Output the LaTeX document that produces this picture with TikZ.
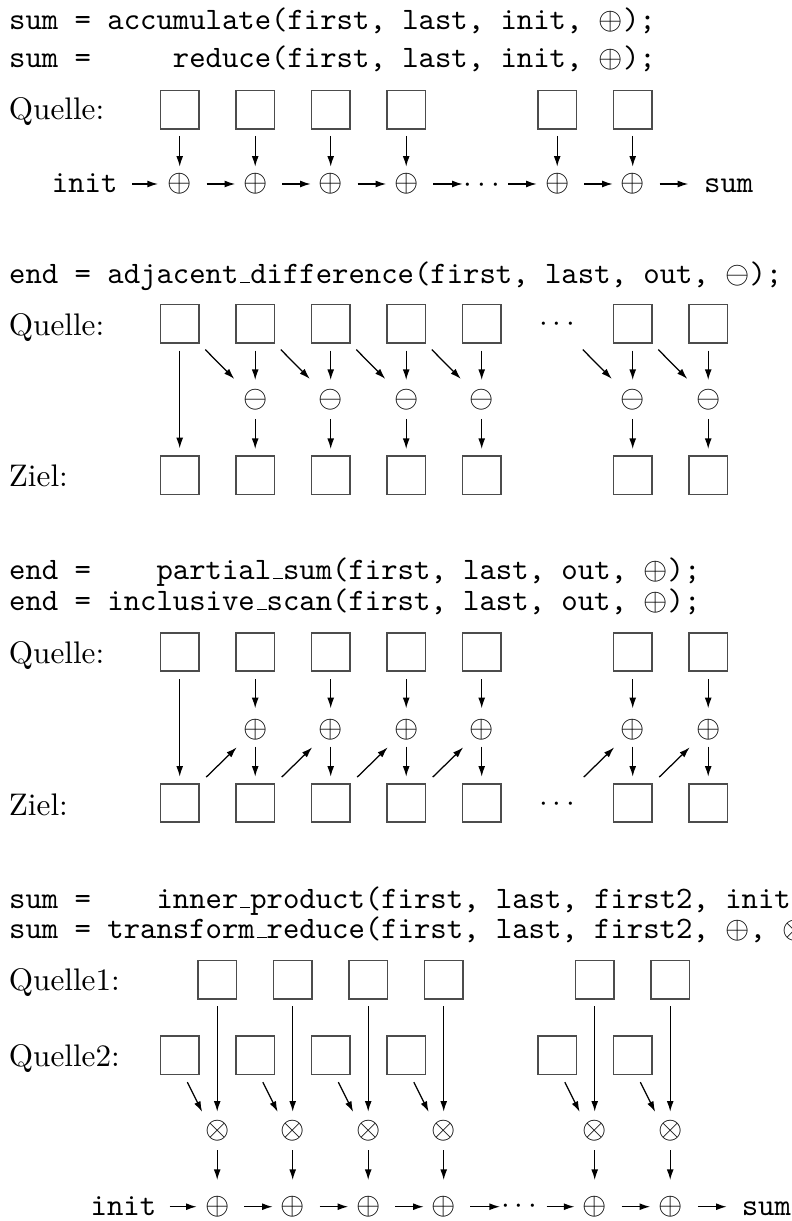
\documentclass[tikz,border=0pt]{standalone}
\usetikzlibrary{arrows.meta,calc}
\newcommand\usc{\leavevmode\kern0.63pt\vbox{\hrule width 3.15pt}}
\tikzset{
  box/.style={draw=black!70, line width=0.5pt, minimum width=12.34pt, minimum height=12.34pt, inner sep=0pt},
  op/.style={inner sep=0pt},
  lbl/.style={anchor=base west, inner sep=0pt},
  code/.style={anchor=base west, inner sep=0pt, font=\ttfamily},
  arr/.style={-{Latex[length=3.4pt,width=2.2pt]}, line width=0.4pt},
  dotsn/.style={anchor=base, inner sep=0pt},
  sh/.style 2 args={shorten <=#1*0.3205pt, shorten >=#2*0.3205pt},
}
\begin{document}
\begin{tikzpicture}[x=0.3205pt,y=-0.3205pt]
\useasboundingbox (0,0) rectangle (792,1221);

% ---------- Section 1 ----------
\node[code] (t1a) at (8.5,30) {sum = accumulate(first, last, init, $\oplus$);};
\node[code] (t1b) at (8.5,67.5) {sum =\ \ \ \ \ reduce(first, last, init, $\oplus$);};
\node[lbl] (l1) at (8.3,120) {Quelle:};
\foreach \i in {0,1,2,3,5,6} {
  \node[box] (a\i) at ({179.7+75.5*\i},109.7) {};
  \node[op] (ap\i) at ({179.7+75.5*\i},184) {$\oplus$};
  \draw[arr, sh={26.3}{17.3}] (a\i.center) -- (ap\i.center);
}
\node[dotsn] (ad) at (481.7,192.8) {$\cdots$};
\node[code] (init1) at (51.3,193) {init};
\node[code] (sum1) at (703.5,193) {sum};
\draw[arr, sh={14}{21.7}] (init1.east |- ap0.center) -- (ap0.center);
\foreach \a/\b in {0/1,1/2,2/3,5/6}
  \draw[arr, sh={27}{20}] (ap\a.center) -- (ap\b.center);
\draw[arr, sh={27}{19}] (ap3.center) -- (ad.center |- ap3.center);
\draw[arr, sh={26.5}{20.5}] (ad.center |- ap5.center) -- (ap5.center);
\draw[arr, sh={27}{15.2}] (ap6.center) -- (sum1.west |- ap6.center);

% ---------- Section 2 ----------
\node[code] (t2) at (8.5,283.3) {end = adjacent\usc difference(first, last, out, $\ominus$);};
\node[lbl] (l2q) at (8.3,336) {Quelle:};
\node[lbl] (l2z) at (8.3,486.7) {Ziel:};
\foreach \i in {0,1,2,3,4,6,7} {
  \node[box] (b\i) at ({179.7+75.5*\i},323.8) {};
  \node[box] (bz\i) at ({179.7+75.5*\i},475.3) {};
}
\coordinate (b5) at (557.2,323.8);
\node[dotsn] (bd) at (557.2,331.8) {$\cdots$};
\draw[arr, sh={26.9}{27}] (b0.center) -- (bz0.center);
\foreach \i in {1,2,3,4,6,7} {
  \node[op] (bm\i) at ({179.7+75.5*\i},400) {$\ominus$};
  \draw[arr, sh={26.9}{20}] (b\i.center) -- (bm\i.center);
  \draw[arr, sh={19}{26.3}] (bm\i.center) -- (bz\i.center);
  \pgfmathtruncatemacro\j{\i-1}
  \draw[arr, sh={36.4}{29.7}] (b\j.center) -- (bm\i.center);
}

% ---------- Section 3 ----------
\node[code] (t3a) at (8.5,579.3) {end =\ \ \ \ partial\usc sum(first, last, out, $\oplus$);};
\node[code] (t3b) at (8.5,610) {end = inclusive\usc scan(first, last, out, $\oplus$);};
\node[lbl] (l3q) at (8.3,663.3) {Quelle:};
\node[lbl] (l3z) at (8.3,815) {Ziel:};
\foreach \i in {0,1,2,3,4,6,7} {
  \node[box] (c\i) at ({179.7+75.5*\i},652) {};
  \node[box] (cz\i) at ({179.7+75.5*\i},803) {};
}
\coordinate (cz5) at (557.2,803);
\node[dotsn] (cd) at (557.2,811.1) {$\cdots$};
\draw[arr, sh={27}{26.3}] (c0.center) -- (cz0.center);
\foreach \i in {1,2,3,4,6,7} {
  \node[op] (cp\i) at ({179.7+75.5*\i},729.3) {$\oplus$};
  \draw[arr, sh={27}{21}] (c\i.center) -- (cp\i.center);
  \draw[arr, sh={17.4}{26.3}] (cp\i.center) -- (cz\i.center);
  \pgfmathtruncatemacro\j{\i-1}
  \draw[arr, sh={37}{25.9}] (cz\j.center) -- (cp\i.center);
}

% ---------- Section 4 ----------
\node[code] (t4a) at (8.5,908.3) {sum =\ \ \ \ inner\usc product(first, last, first2, init};
\node[code] (t4b) at (8.5,938.3) {sum = transform\usc reduce(first, last, first2, $\oplus$, $\otimes$};
\node[lbl] (l4a) at (8.3,990) {Quelle1:};
\node[lbl] (l4b) at (8.3,1066.7) {Quelle2:};
\foreach \i in {0,1,2,3,5,6} {
  \node[box] (d\i) at ({217.2+75.5*\i},979.7) {};
  \node[box] (e\i) at ({179.7+75.5*\i},1055.3) {};
  \node[op] (dm\i) at ({217.2+75.5*\i},1130.7) {$\otimes$};
  \node[op] (dp\i) at ({217.2+75.5*\i},1206.7) {$\oplus$};
  \draw[arr, sh={26.3}{19}] (d\i.center) -- (dm\i.center);
  \draw[arr, sh={30}{21}] ($(e\i.center)+(-5.7,0)$) -- ($(dm\i.center)+(-5.7,0)$);
  \draw[arr, sh={19.3}{26.7}] (dm\i.center) -- (dp\i.center);
}
\node[dotsn] (dd) at (519.2,1213.8) {$\cdots$};
\node[code] (init2) at (90,1215) {init};
\node[code] (sum2) at (741.2,1215) {sum};
\draw[arr, sh={12.8}{20.5}] (init2.east |- dp0.center) -- (dp0.center);
\foreach \a/\b in {0/1,1/2,2/3,5/6}
  \draw[arr, sh={27}{20}] (dp\a.center) -- (dp\b.center);
\draw[arr, sh={26.5}{19.2}] (dp3.center) -- (dd.center |- dp3.center);
\draw[arr, sh={27.5}{20.2}] (dd.center |- dp5.center) -- (dp5.center);
\draw[arr, sh={27.6}{14.5}] (dp6.center) -- (sum2.west |- dp6.center);
\end{tikzpicture}
\end{document}
